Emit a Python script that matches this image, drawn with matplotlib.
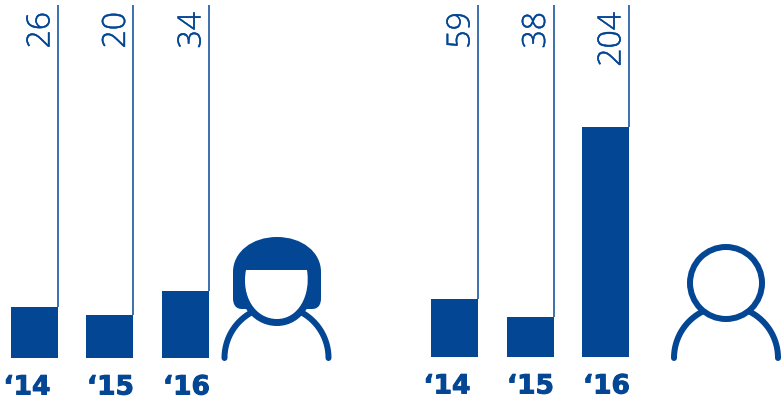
import numpy as np
import matplotlib.pyplot as plt
import matplotlib.patheffects as pe
from matplotlib.patches import Circle, PathPatch
from matplotlib.path import Path

# Data
years = ["\u201814", "\u201815", "\u201816"]
women_labels = ["26", "20", "34"]
men_labels = ["59", "38", "204"]
# drawn bar heights, they do not follow the printed numbers exactly
women_heights = [26, 21.8, 34]
men_heights = [51.5, 35.5, 204]

BLUE = "#034694"
PX = 72 / 100  # one pixel in points

fig = plt.figure(figsize=(7.84, 4.03), dpi=100)
W, H = 784, 403


def add_axes_px(x0, x1, y_top, y_bottom):
    return fig.add_axes([x0 / W, 1 - y_bottom / H, (x1 - x0) / W, (y_bottom - y_top) / H])


def draw_panel(ax, heights, labels, ymax):
    pos = np.arange(len(heights))
    width = 47 / 75.5
    ax.bar(pos, heights, width=width, color=BLUE)
    right = pos + width / 2

    # thin line going up from the right edge of each bar
    ax.vlines(right, heights, ymax, color=BLUE, lw=1.5 * PX)

    for x, label in zip(right, labels):
        ax.annotate(label, xy=(x, ymax), xytext=(-0.5 * PX, -7 * PX), textcoords="offset points",
                    rotation=90, ha="right", va="top", color=BLUE, fontsize=32 * PX,
                    family="Open Sans", fontweight="light",
                    path_effects=[pe.withStroke(linewidth=0.4 * PX, foreground=BLUE)])

    # year labels, the first one sits further left
    shifts = [-7.5, 0.5, 1]
    for x, year, shift in zip(pos, years, shifts):
        ax.annotate(year, xy=(x, 0), xytext=(shift * PX, -36.5 * PX), textcoords="offset points",
                    ha="center", va="baseline", color=BLUE, fontsize=26.5 * PX,
                    family="DejaVu Sans", fontweight="bold",
                    path_effects=[pe.withStroke(linewidth=1 * PX, foreground=BLUE)])

    ax.set_ylim(0, ymax)
    ax.axis("off")


# one unit on x is one bar step (75.5 px), first bar centre at 34.5 px from panel start
ax_left = add_axes_px(0, 392, 5, 358)
ax_left.set_xlim(-34.5 / 75.5, (392 - 34.5) / 75.5)
draw_panel(ax_left, women_heights, women_labels, 179)

ax_right = add_axes_px(420, 720, 5, 357)
ax_right.set_xlim(-(454.5 - 420) / 75.5, (720 - 454.5) / 75.5)
draw_panel(ax_right, men_heights, men_labels, 312)

# Icons are drawn on an overlay in pixel coordinates
ico = fig.add_axes([0, 0, 1, 1])
ico.set_xlim(0, W)
ico.set_ylim(H, 0)
ico.axis("off")
ico.patch.set_alpha(0)


def shoulders(cx, cy, r, a0):
    # arc left and right, a0 = angle from horizontal where it stops
    a = np.radians(np.linspace(0, a0, 60))
    for sign in (-1, 1):
        ico.plot(cx + sign * r * np.cos(a), cy - r * np.sin(a), color=BLUE,
                 lw=6 * PX, solid_capstyle="round")


# woman
M, L, C, Z = Path.MOVETO, Path.LINETO, Path.CURVE4, Path.CLOSEPOLY
hair = [(233, 272),
        (233, 252), (252, 237), (277, 237),
        (302, 237), (321, 252), (321, 272),
        (321, 298),
        (321, 305), (318, 309), (312, 309),
        (242, 309),
        (236, 309), (233, 305), (233, 298),
        (233, 272)]
hair_codes = [M, C, C, C, C, C, C, L, C, C, C, L, C, C, C, Z]
ico.add_patch(PathPatch(Path(hair, hair_codes), fc=BLUE, ec="none"))

face = [(246, 270), (307, 270), (311, 296), (298, 319), (277, 319),
        (255, 319), (241, 296), (246, 270), (246, 270)]
face_codes = [M, L, C, C, C, C, C, C, Z]
ico.add_patch(PathPatch(Path(face, face_codes), fc="none", ec=BLUE, lw=14 * PX, zorder=2))
ico.add_patch(PathPatch(Path(face, face_codes), fc="white", ec="none", zorder=3))
shoulders(276.5, 358, 52, 60)

# man
ico.add_patch(Circle((726, 283), 36, fc="white", ec=BLUE, lw=6 * PX))
shoulders(726, 358, 52, 63)

fig.savefig("out.png", dpi=100)
